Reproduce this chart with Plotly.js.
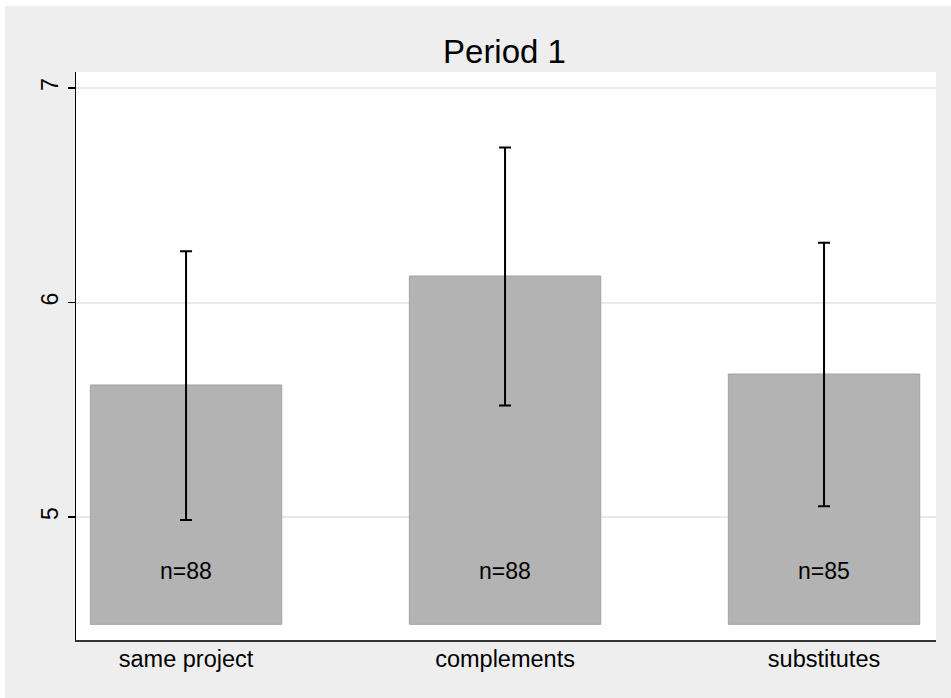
<!DOCTYPE html>
<html>
<head>
<meta charset="utf-8">
<script src="https://cdn.plot.ly/plotly-3.0.1.min.js"></script>
<style>
html,body{margin:0;padding:0;background:#ffffff;}
#chart{position:absolute;left:5px;top:6px;width:946px;height:692px;}
</style>
</head>
<body>
<div id="chart"></div>
<script>
var categories = ["same project", "complements", "substitutes"];
var means = [5.616, 6.124, 5.667];
var errUpper = [0.623, 0.599, 0.612];
var errLower = [0.630, 0.604, 0.616];
var nLabels = ["n=88", "n=88", "n=85"];
var barBase = 4.5;
var labelY = 4.748;
var yTicks = [5, 6, 7];

var xIdx = categories.map(function(c, i){ return i; });
var FONT = "Liberation Sans, Arial, sans-serif";

var trace = {
  type: "bar",
  x: xIdx,
  y: means.map(function(m){ return m - barBase; }),
  base: barBase,
  width: 0.6,
  marker: {color: "#b3b3b3", line: {color: "#a3a3a3", width: 1}},
  error_y: {
    type: "data", symmetric: false,
    array: errUpper, arrayminus: errLower,
    color: "#000000", thickness: 2, width: 6
  },
  hoverinfo: "skip"
};

var annotations = nLabels.map(function(t, i){
  return {x: i, y: labelY, xref: "x", yref: "y", text: t, showarrow: false,
          font: {family: FONT, size: 23, color: "#000"}};
});

var layout = {
  width: 946, height: 692,
  margin: {l: 71, r: 15, t: 66, b: 58},
  paper_bgcolor: "#eeeeee",
  plot_bgcolor: "#ffffff",
  showlegend: false,
  title: {text: "Period 1", x: 0.528, xanchor: "center", y: 0.934, yanchor: "middle",
          font: {family: FONT, size: 33, color: "#000"}},
  xaxis: {
    range: [-0.345, 2.351],
    tickmode: "array", tickvals: xIdx, ticktext: categories,
    ticks: "", showgrid: false, zeroline: false,
    showline: true, linecolor: "#333333", linewidth: 2, mirror: false,
    ticklabelstandoff: -3,
    tickfont: {family: FONT, size: 23.5, color: "#000"}
  },
  yaxis: {
    range: [4.427, 7.075],
    tickmode: "array", tickvals: yTicks, ticktext: yTicks.map(String),
    ticks: "outside", ticklen: 7, tickwidth: 1.5, tickcolor: "#000",
    tickangle: -90,
    showgrid: true, gridcolor: "#eaeaea", gridwidth: 2, zeroline: false,
    showline: true, linecolor: "#000", linewidth: 1.5,
    tickfont: {family: FONT, size: 23, color: "#000"}
  },
  annotations: annotations
};

Plotly.newPlot("chart", [trace], layout, {displayModeBar: false, staticPlot: true});
</script>
</body>
</html>
